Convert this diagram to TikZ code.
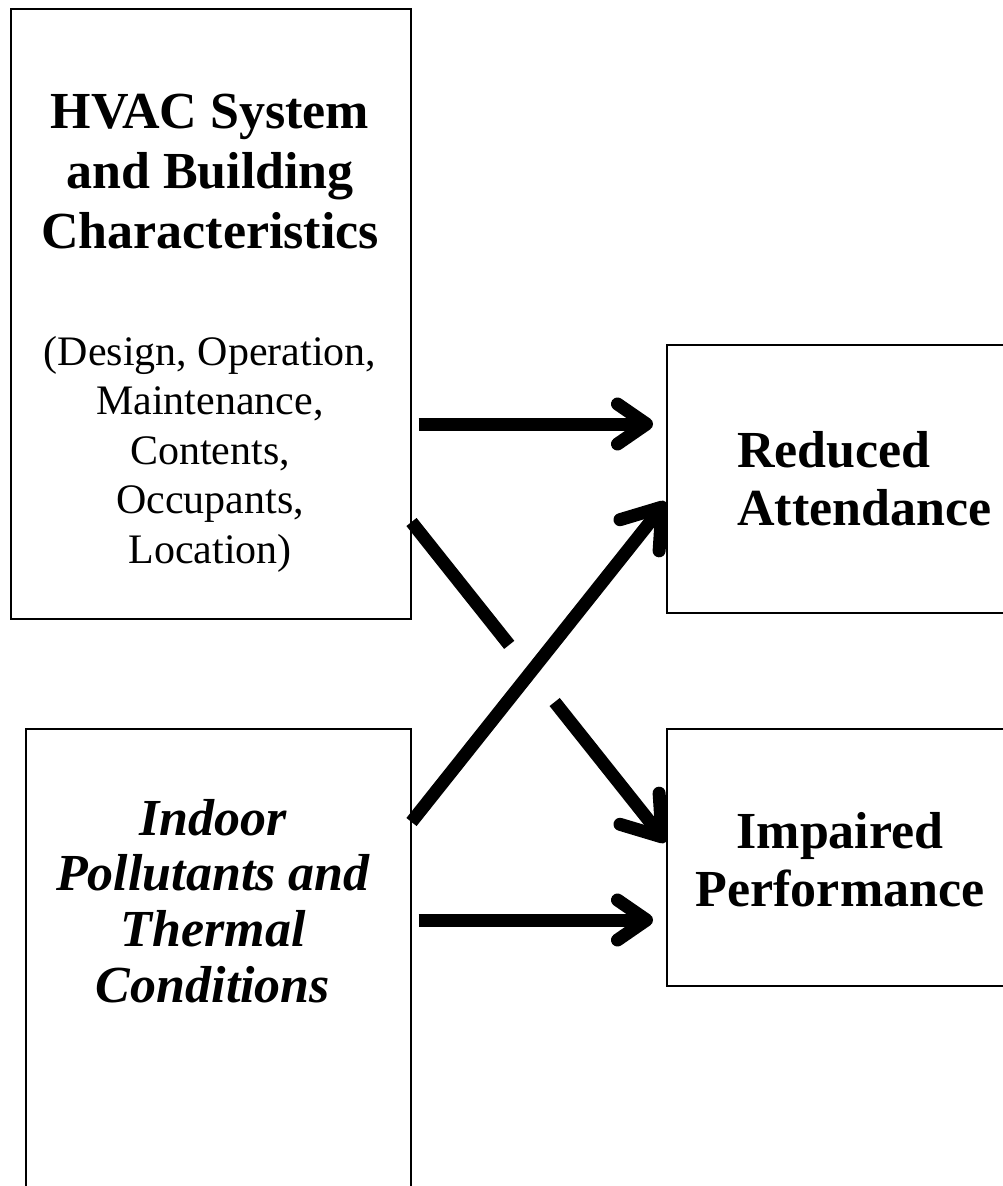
\documentclass[tikz,border=0pt]{standalone}
\usepackage{fontspec}
\setmainfont{Liberation Serif}
\usetikzlibrary{arrows.meta,calc}
\pgfdeclarelayer{top}
\pgfsetlayers{main,top}
\begin{document}
\begin{tikzpicture}[x=1pt,y=-1pt,
  box/.style={draw=black, line width=1.5pt, rectangle, inner sep=0pt, anchor=north west},
  txt/.style={inner sep=0pt, align=center, anchor=north},
  boldtxt/.style={txt, font=\bfseries\fontsize{52}{60}\selectfont},
  arrH/.style={line width=13pt, -{Straight Barb[length=29pt,width=40pt,round]}},
  arrD/.style={line width=13pt, -{Straight Barb[length=36pt,width=50pt,round]}}]
\useasboundingbox (0,0) rectangle (1003,1186);
\clip (0,0) rectangle (1003,1186);
% left boxes
\node[box, minimum width=400pt, minimum height=610pt] (b1) at (10,8) {};
\node[box, minimum width=385pt, minimum height=502pt] (b2) at (25,728) {};
% right boxes (drawn over arrows)
\begin{pgfonlayer}{top}
\node[box, fill=white, minimum width=380pt, minimum height=268pt] (b3) at (666,344) {};
\node[box, fill=white, minimum width=380pt, minimum height=257pt] (b4) at (666,728) {};
\node[txt, anchor=north west, align=left, font=\bfseries\fontsize{52}{58}\selectfont] (t4) at (737,431) {Reduced\\Attendance};
\node[txt, font=\bfseries\fontsize{52}{58}\selectfont] (t5) at (840,812) {Impaired\\Performance};
\end{pgfonlayer}
% texts of left boxes
\node[boldtxt] (t1) at (210,94) {HVAC System\\and Building\\Characteristics};
\node[txt, font=\fontsize{42}{49.5}\selectfont] (t2) at (210,336) {(Design, Operation,\\Maintenance,\\Contents,\\Occupants,\\Location)};
\node[txt, font=\bfseries\itshape\fontsize{52}{55.7}\selectfont] (t3) at (213,799) {Indoor\\Pollutants and\\Thermal\\Conditions};
% arrows
\draw[arrH, shorten <=7pt, shorten >=13pt] (b1.east |- 0,424) -- (b3.west |- 0,424);
\draw[arrH, shorten <=7pt, shorten >=13pt] (b2.east |- 0,920) -- (b4.west |- 0,920);
\draw[arrD, dash pattern=on 157pt off 73pt on 600pt] (b1.east |- 0,522) -- (b4.west |- 0,842);
\draw[arrD] (b2.east |- 0,822) -- (b3.west |- 0,502);
\end{tikzpicture}
\end{document}
